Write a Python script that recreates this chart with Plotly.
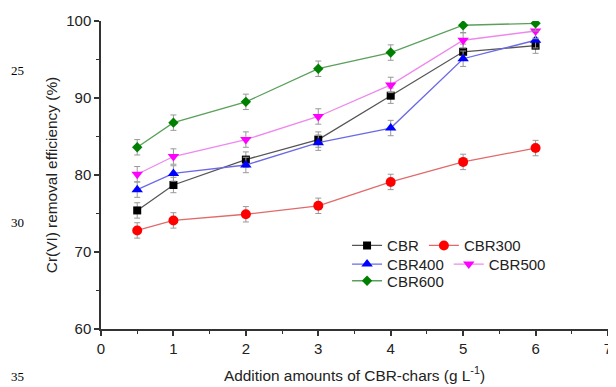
import plotly.graph_objects as go

x_vals = [0.5, 1, 2, 3, 4, 5, 6]
cbr = [75.4, 78.7, 82.0, 84.6, 90.3, 96.0, 96.8]
cbr300 = [72.8, 74.1, 74.9, 76.0, 79.1, 81.7, 83.5]
cbr400 = [78.1, 80.2, 81.3, 84.2, 86.1, 95.1, 97.5]
cbr500 = [80.1, 82.4, 84.6, 87.6, 91.7, 97.5, 98.7]
cbr600 = [83.6, 86.8, 89.5, 93.8, 95.9, 99.45, 99.7]
err = [1.0] * 7

series = [
    ("CBR", cbr, "#000000", "#555555", "square", 8, "legend"),
    ("CBR300", cbr300, "#ff0000", "#e06a6a", "circle", 10, "legend"),
    ("CBR400", cbr400, "#0000ff", "#6a6ae6", "triangle-up", 10, "legend2"),
    ("CBR500", cbr500, "#ff00ff", "#ee88ee", "triangle-down", 10, "legend2"),
    ("CBR600", cbr600, "#008000", "#5aa05a", "diamond", 8, "legend3"),
]

fig = go.Figure()
for name, ys, mc, lc, sym, sz, lg in series:
    fig.add_trace(go.Scatter(
        x=x_vals, y=ys, name=name, mode="lines+markers",
        line=dict(color=lc, width=1.3),
        marker=dict(color=mc, symbol=sym, size=sz),
        error_y=dict(type="data", array=err, visible=True, color="#999999", thickness=1, width=3),
        legend=lg,
    ))

# page body has an 8px margin; work in page pixels and convert
OFF = 8
W, H = 616 - OFF, 387 - OFF
L, R, T = 101 - OFF, 4, 21 - OFF
B = H - (329 - OFF)
pw = W - L - R
ph = H - T - B

def px(xp):
    return (xp - OFF - L) / pw

def py(yp):
    return (H - B - (yp - OFF)) / ph

leg_common = dict(orientation="h", xanchor="left", yanchor="middle",
                  bgcolor="rgba(0,0,0,0)", borderwidth=0,
                  font=dict(family="Liberation Sans, Arial", size=15, color="#222222"),
                  itemwidth=30, traceorder="normal", tracegroupgap=0)

fig.update_layout(
    width=W, height=H,
    margin=dict(l=L, r=R, t=T, b=B),
    paper_bgcolor="white", plot_bgcolor="white",
    font=dict(family="Liberation Sans, Arial", size=15, color="#222222"),
    legend=dict(x=px(349), y=py(245.7), **leg_common),
    legend2=dict(x=px(349), y=py(264.3), **leg_common),
    legend3=dict(x=px(349), y=py(281), **leg_common),
    xaxis=dict(range=[0, 7], tickvals=[0, 1, 2, 3, 4, 5, 6, 7], showgrid=False, zeroline=False,
               showline=True, linecolor="#333333", linewidth=1.5,
               ticks="outside", ticklen=5, tickwidth=1.5, tickcolor="#333333",
               minor=dict(dtick=0.5, ticks="outside", ticklen=3, tickwidth=1.2, tickcolor="#333333"),
               tickfont=dict(size=15), ticklabeloverflow="allow",
               title=dict(text="Addition amounts of CBR-chars (g L<sup>-1</sup>)", font=dict(size=15.4), standoff=14)),
    yaxis=dict(range=[60, 100], tickvals=[60, 70, 80, 90, 100], showgrid=False, zeroline=False,
               showline=True, linecolor="#333333", linewidth=1.5,
               ticks="outside", ticklen=5, tickwidth=1.5, tickcolor="#333333",
               minor=dict(dtick=5, ticks="outside", ticklen=3, tickwidth=1.2, tickcolor="#333333"),
               tickfont=dict(size=15), ticklabeloverflow="allow",
               title=dict(text="Cr(VI) removal efficiency (%)", font=dict(size=15.4), standoff=5)),
)

for txt, yp in [("25", 70.5), ("30", 222.3), ("35", 376.7)]:
    fig.add_annotation(text=txt, xref="paper", yref="paper", x=px(16.5), y=py(yp),
                       xanchor="center", yanchor="middle", showarrow=False,
                       font=dict(family="Liberation Serif, Times New Roman", size=13, color="#000000"))

fig.write_html("out.html")
